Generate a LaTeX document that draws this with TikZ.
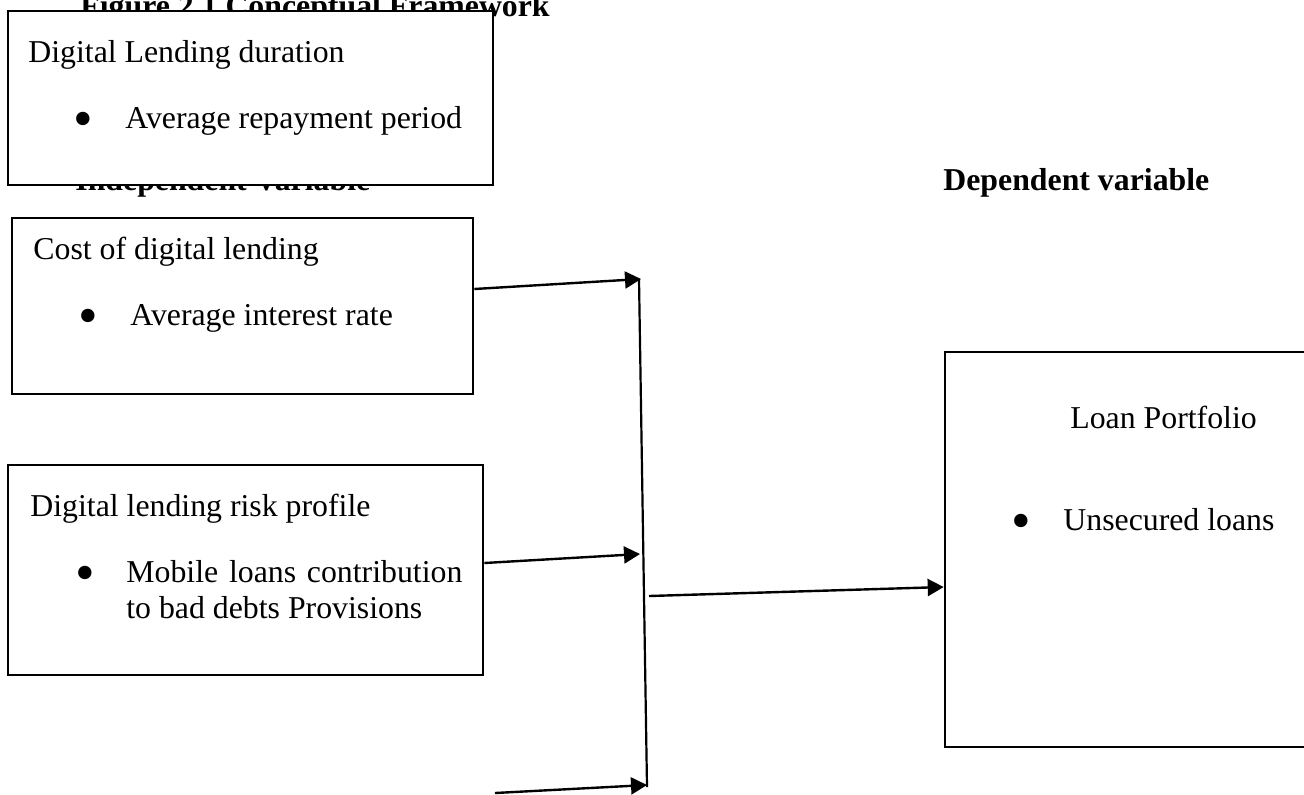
\documentclass[tikz,border=0pt]{standalone}
\usepackage{fontspec}
\setmainfont{Liberation Serif}
\usetikzlibrary{arrows.meta}
\begin{document}
\begin{tikzpicture}[x=0.5pt,y=-0.5pt,
  txt/.style={inner sep=0pt,anchor=base west,font=\fontsize{15.9pt}{19pt}\selectfont},
  btxt/.style={txt,font=\fontsize{15.9pt}{19pt}\selectfont\bfseries},
  bul/.style={inner sep=0pt,anchor=base,font=\fontsize{28pt}{30pt}\selectfont},
  box/.style={draw,line width=1.3pt,fill=white,inner sep=0pt},
  conn/.style={line width=1.2pt,-{Triangle[length=8pt,width=8.5pt]}},
  bus/.style={line width=1.1pt}]
\path[use as bounding box,clip] (0,0) rectangle (1304,794);
% texts partly hidden behind the first box
\node[btxt] (title) at (80,16) {Figure 2.1 Conceptual Framework};
\node[btxt] (indep) at (75,190) {Independent Variable};
\node[btxt] (dep) at (943,190) {Dependent variable};
% boxes
\node[box,minimum width=242.5pt,minimum height=87pt] (A) at (250.5,98) {};
\node[box,minimum width=230.5pt,minimum height=88pt] (B) at (242.5,306) {};
\node[box,minimum width=237.5pt,minimum height=105pt] (C) at (245.5,570) {};
\node[box,minimum width=187.5pt,minimum height=197.5pt] (D) at (1132.5,549.5) {};
% box A text
\node[txt] (a1) at (28,62) {Digital Lending duration};
\node[bul] (a2) at (83,137) {•};
\node[txt] (a3) at (125,128) {Average repayment period};
% box B text
\node[txt] (b1) at (33,259) {Cost of digital lending};
\node[bul] (b2) at (88,334) {•};
\node[txt] (b3) at (130,325) {Average interest rate};
% box C text
\node[txt] (c1) at (30,516) {Digital lending risk profile};
\node[bul] (c2) at (85,591) {•};
\node[txt] (c3) at (126,582) {\makebox[168pt][s]{Mobile loans contribution}};
\node[txt] (c4) at (126,618) {to bad debts Provisions};
% box D text
\node[txt] (d1) at (1070,428) {Loan Portfolio};
\node[bul] (d2) at (1021,539) {•};
\node[txt] (d3) at (1063,530) {Unsecured loans};
% bus and connectors
\coordinate (bt) at (639,279);
\coordinate (bb) at (647,787);
\coordinate (t1) at (641,279);
\coordinate (t2) at (640,554);
\coordinate (s3) at (649,596);
\coordinate (s4) at (495,793);
\coordinate (t4) at (647,785);
\draw[bus] (bt) -- (bb);
\draw[conn] ([yshift=8.5pt]B.east) -- (t1);
\draw[conn] ([yshift=3.5pt]C.east) -- (t2);
\draw[conn] (s3) -- ([yshift=-18.75pt]D.west);
\draw[conn] (s4) -- (t4);
\end{tikzpicture}
\end{document}
